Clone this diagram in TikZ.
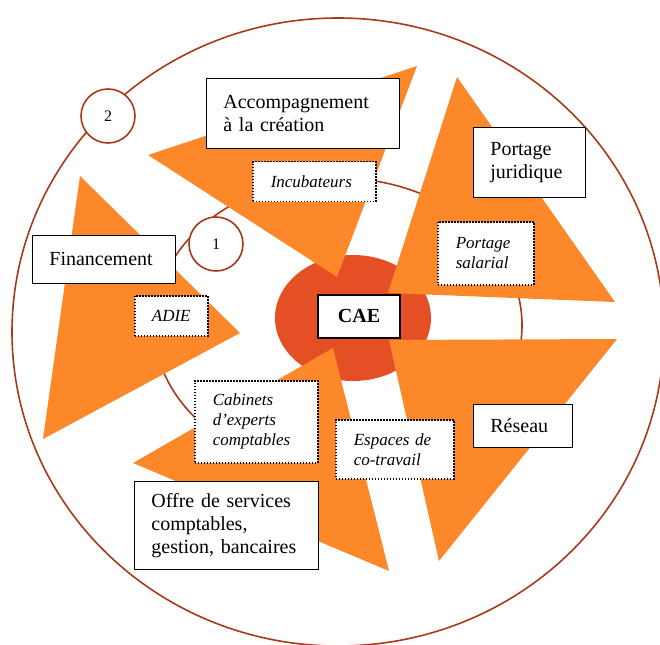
\documentclass[tikz,border=0pt]{standalone}
\usepackage{fontspec}
\setmainfont{Liberation Serif}
\usepackage{xcolor}
\definecolor{bordeaux}{RGB}{168,58,28}
\definecolor{orangeT}{RGB}{253,136,42}
\definecolor{rougeCAE}{RGB}{229,79,37}
\tikzset{
  cadre/.style={draw=black, fill=white, line width=0.8pt, anchor=north west, align=left,
    inner xsep=17pt, inner ysep=0pt, font=\fontsize{20}{23}\selectfont},
  pointille/.style={draw=black, fill=white, line width=1.5pt, dash pattern=on 1.5pt off 1.5pt,
    anchor=north west, align=left, inner xsep=18pt, inner ysep=0pt, font=\fontsize{17}{20}\selectfont\itshape},
  rond/.style={circle, draw=bordeaux, fill=white, line width=1.6pt, minimum size=54pt,
    inner sep=0pt, font=\fontsize{16}{16}\selectfont},
  triangle/.style={fill=orangeT}
}

\begin{document}
\begin{tikzpicture}[x=1pt, y=-1pt]
    % Parametri
    \pgfmathsetmacro{\epais}{1.6}
    \useasboundingbox (0,0) rectangle (660,644);
    % Anneaux
    \draw[bordeaux, line width=\epais pt] (338,332) ellipse [x radius=326pt, y radius=314pt];
    \draw[bordeaux, line width=\epais pt] (338,325) ellipse [x radius=184pt, y radius=147pt];
    \fill[rougeCAE] (353,318) ellipse [x radius=78pt, y radius=63pt];
    % Triangles
    \fill[triangle] (148,155) -- (417,66) -- (337,277) -- cycle;
    \fill[triangle] (457,77) -- (615,302) -- (388,293) -- cycle;
    \fill[triangle] (389,340) -- (617,339) -- (439,561) -- cycle;
    \fill[triangle] (133,463) -- (333,348) -- (389,571) -- cycle;
    \fill[triangle] (80,176) -- (240,333) -- (43,439) -- cycle;
    % Cadres
    \node[cadre, text width=159pt, minimum height=70pt] (accomp) at (206,78) {Accompagnement\\à la création};
    \node[cadre, text width=78pt, minimum height=70pt] (portjur) at (473,127) {Portage\\juridique};
    \node[cadre, text width=109pt, minimum height=48pt] (financ) at (32,235) {Financement};
    \node[cadre, text width=150pt, minimum height=88pt] (offre) at (134,481) {Offre de services\\comptables,\\gestion, bancaires};
    \node[cadre, text width=65pt, minimum height=43pt] (reseau) at (473,404) {Réseau};
    \node[pointille, text width=87pt, minimum height=40pt] (incub) at (252,161) {Incubateurs};
    \node[pointille, text width=60pt, minimum height=63pt] (portsal) at (437,221) {Portage\\salarial};
    \node[pointille, align=center, inner xsep=16pt, minimum width=73pt, minimum height=40pt] (adie) at (134,295) {ADIE};
    \node[pointille, text width=87pt, minimum height=82pt] (cabinets) at (194,380) {Cabinets\\d’experts\\comptables};
    \node[pointille, text width=82pt, minimum height=59pt] (espaces) at (335,419) {Espaces de\\co-travail};
    \node[draw=black, fill=white, line width=2pt, minimum width=82pt, minimum height=43pt,
      font=\fontsize{20}{20}\selectfont\bfseries] (cae) at (359,316) {CAE};
    % Cercles
    \node[rond] (deux) at (108,116) {2};
    \node[rond] (un) at (216,244) {1};
\end{tikzpicture}
\end{document}
